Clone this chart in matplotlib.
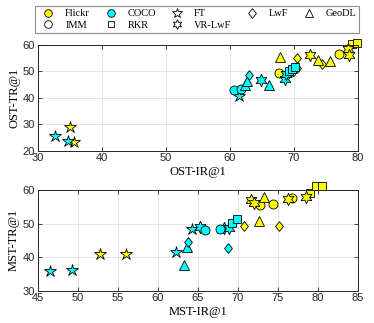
import numpy as np
from matplotlib import pyplot as plt
from matplotlib.lines import Line2D

# OST results: Flickr (yellow) and COCO (cyan)
ost_flickr_method = ['FT', 'FT', 'IMM', 'IMM', 'IMM', 'RKR', 'RKR', 'LwF', 'LwF', 'LwF',
                     'GeoDL', 'GeoDL', 'GeoDL', 'VR-LwF', 'VR-LwF', 'VR-LwF']
ost_flickr_x = [35.0, 35.7, 67.6, 69.6, 77.0, 79.0, 79.8, 70.5, 74.4, 70.5,
                67.9, 73.7, 75.6, 72.5, 78.4, 78.6]
ost_flickr_y = [28.9, 23.2, 49.4, 49.6, 56.5, 60.3, 60.6, 55.0, 52.8, 51.2,
                55.3, 54.4, 53.9, 56.1, 58.4, 56.0]

ost_coco_method = ['FT', 'FT', 'FT', 'IMM', 'IMM', 'GeoDL', 'GeoDL', 'GeoDL', 'LwF',
                   'VR-LwF', 'VR-LwF', 'VR-LwF', 'RKR', 'RKR', 'RKR']
ost_coco_x = [32.6, 34.7, 61.4, 60.7, 61.8, 62.3, 62.6, 66.1, 62.9,
              64.8, 68.6, 68.7, 69.3, 69.7, 70.1]
ost_coco_y = [25.6, 23.7, 40.8, 43.0, 43.3, 44.8, 46.5, 44.8, 48.5,
              46.8, 47.1, 49.0, 50.3, 51.0, 51.6]

# MST results
mst_flickr_method = ['FT', 'FT', 'IMM', 'IMM', 'IMM', 'RKR', 'RKR', 'RKR', 'LwF', 'LwF',
                     'GeoDL', 'GeoDL', 'VR-LwF', 'VR-LwF', 'VR-LwF', 'VR-LwF']
mst_flickr_x = [52.8, 56.0, 72.8, 74.4, 76.7, 79.0, 79.7, 80.5, 70.8, 75.1,
                72.6, 73.2, 71.6, 72.0, 76.2, 78.5]
mst_flickr_y = [40.9, 40.9, 55.6, 55.8, 57.5, 59.2, 61.2, 61.2, 49.3, 49.3,
                50.9, 57.8, 57.0, 56.0, 57.2, 58.0]

mst_coco_method = ['FT', 'FT', 'FT', 'FT', 'GeoDL', 'GeoDL', 'LwF', 'LwF',
                   'VR-LwF', 'VR-LwF', 'VR-LwF', 'IMM', 'IMM', 'RKR', 'RKR']
mst_coco_x = [46.5, 49.3, 62.3, 64.3, 63.3, 63.6, 63.75, 68.7,
              65.3, 68.2, 68.9, 65.9, 67.8, 69.2, 69.9]
mst_coco_y = [35.9, 36.2, 41.5, 48.3, 37.7, 43.1, 44.6, 42.7,
              49.0, 48.6, 48.8, 48.1, 48.3, 50.1, 51.3]

# marker style per method
diamond = [(0, 1), (0.8, 0), (0, -1), (-0.8, 0), (0, 1)]
markers = {'FT': ('*', 9), 'IMM': ('o', 6.5), 'RKR': ('s', 5.8), 'LwF': (diamond, 7),
           'GeoDL': ('^', 7), 'VR-LwF': ((6, 1, 0), 9)}
legend_ms = {'Flickr': 5.5, 'COCO': 5.5, 'IMM': 5.5, 'RKR': 5, 'FT': 7,
             'VR-LwF': 7, 'LwF': 7, 'GeoDL': 6}

serif = 'Liberation Serif'
tick_font = 'Liberation Sans'


def draw(ax, method, x, y, color):
    for m, xi, yi in zip(method, x, y):
        mk, ms = markers[m]
        ax.plot(xi, yi, linestyle='none', marker=mk, markersize=ms, clip_on=False,
                markerfacecolor=color, markeredgecolor='black', markeredgewidth=0.6)


def style(ax, xlabel, ylabel, xlim, ylim, xticks, yticks):
    ax.set_xlim(xlim)
    ax.set_ylim(ylim)
    ax.set_xticks(xticks)
    ax.set_yticks(yticks)
    ax.grid(True, color='0.88', linewidth=0.6)
    ax.set_axisbelow(True)
    ax.tick_params(direction='in', top=True, right=True, length=3, width=0.6,
                   labelsize=8, colors='0.15', pad=2)
    for lab in ax.get_xticklabels() + ax.get_yticklabels():
        lab.set_fontfamily(tick_font)
    for s in ax.spines.values():
        s.set_color('0.15')
        s.set_linewidth(0.7)
    ax.set_xlabel(xlabel, fontfamily=serif, fontsize=9, labelpad=2)
    ax.set_ylabel(ylabel, fontfamily=serif, fontsize=9, labelpad=2)


fig = plt.figure(figsize=(3.74, 3.23), dpi=100)
ax1 = fig.add_axes([0.1016, 0.5334, 0.8554, 0.3276])
ax2 = fig.add_axes([0.1016, 0.1, 0.8554, 0.3118])

draw(ax1, ost_flickr_method, ost_flickr_x, ost_flickr_y, '#ffff00')
draw(ax1, ost_coco_method, ost_coco_x, ost_coco_y, '#00ffff')
style(ax1, 'OST-IR@1', 'OST-TR@1', (30, 80), (20, 60), [30, 40, 50, 60, 70, 80], [20, 30, 40, 50, 60])

draw(ax2, mst_flickr_method, mst_flickr_x, mst_flickr_y, '#ffff00')
draw(ax2, mst_coco_method, mst_coco_x, mst_coco_y, '#00ffff')
style(ax2, 'MST-IR@1', 'MST-TR@1', (45, 85), (30, 60), [45, 50, 55, 60, 65, 70, 75, 80, 85], [30, 40, 50, 60])

# legend
legend_names = ['Flickr', 'IMM', 'COCO', 'RKR', 'FT', 'VR-LwF', 'LwF', 'GeoDL']
handles = []
for name in legend_names:
    if name == 'Flickr':
        mk, fc = 'o', '#ffff00'
    elif name == 'COCO':
        mk, fc = 'o', '#00ffff'
    else:
        mk = markers[name][0]
        fc = 'white'
    handles.append(Line2D([], [], linestyle='none', marker=mk, markersize=legend_ms[name],
                          markerfacecolor=fc, markeredgecolor='black', markeredgewidth=0.6))
leg = fig.legend(handles, legend_names, ncol=5, loc='center', bbox_to_anchor=(0.527, 0.94),
                 prop={'family': serif, 'size': 7.5}, frameon=True, fancybox=False,
                 handlelength=2.0, handletextpad=0.6, columnspacing=1.0,
                 labelspacing=0.2, borderpad=0.3)
leg.get_frame().set_edgecolor('0.45')
leg.get_frame().set_linewidth(0.8)

plt.savefig('out.png', dpi=100)
